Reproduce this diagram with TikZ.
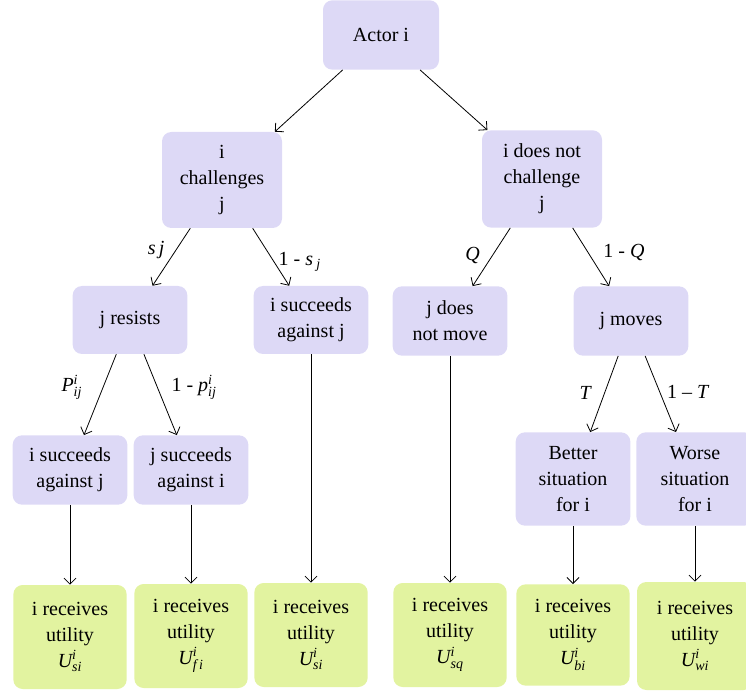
\documentclass[tikz,border=0pt]{standalone}
\usepackage{amsmath}
\usepackage{fontspec}
\setmainfont{Liberation Serif}
\usetikzlibrary{arrows.meta}
\definecolor{lav}{RGB}{221,217,246}
\definecolor{lime}{RGB}{226,243,160}
\newcommand{\vi}[1]{\textit{#1}}

\begin{document}
\begin{tikzpicture}[x=0.75pt, y=-0.75pt,
    choice/.style={rectangle, rounded corners=7pt, fill=lav, align=center,
                   minimum width=86pt, minimum height=51pt, inner sep=2pt,
                   font=\fontsize{15}{19.5}\selectfont},
    payoff/.style={rectangle, rounded corners=7pt, fill=lime, align=center,
                   minimum width=85pt, minimum height=78pt, inner sep=2pt,
                   font=\fontsize{15}{19.5}\selectfont},
    prob/.style={font=\fontsize{15}{19.5}\selectfont},
    arrow/.style={-{Straight Barb[length=1.6mm]}, semithick}
]
\clip (0,0) rectangle (746,691);

\node (actor) [choice, minimum width=87pt, minimum height=52pt] at (381,35) {Actor i};
\node (chal)  [choice, minimum width=90pt, minimum height=72pt] at (222,180) {i\\challenges\\j};
\node (nochal)[choice, minimum width=90pt, minimum height=73pt] at (542,179) {i does not\\challenge\\j};
\node (res)   [choice] at (130,320) {j resists};
\node (succ)  [choice] at (311,320) {i succeeds\\against j};
\node (stay)  [choice, minimum height=52pt] at (450,321) {j does\\not move};
\node (move)  [choice, minimum height=52pt] at (631,321) {j moves};
\node (win)   [choice, minimum height=52pt] at (70,470) {i succeeds\\against j};
\node (lose)  [choice, minimum height=52pt] at (191,470) {j succeeds\\against i};
\node (better)[choice, minimum height=70pt] at (573,479) {Better\\situation\\for i};
\node (worse) [choice, minimum width=88pt, minimum height=70pt] at (695,479) {Worse\\situation\\for i};

% outcomes
\node (u1) [payoff] at (70,637)  {i receives\\utility\\$\vi{U}^{\vi{i}}_{\vi{si}}$};
\node (u2) [payoff] at (191,636) {i receives\\utility\\$\vi{U}^{\vi{i}}_{\vi{f\,i}}$};
\node (u3) [payoff] at (311,635) {i receives\\utility\\$\vi{U}^{\vi{i}}_{\vi{si}}$};
\node (u4) [payoff] at (450,635) {i receives\\utility\\$\vi{U}^{\vi{i}}_{\vi{sq}}$};
\node (u5) [payoff, minimum height=76pt] at (573,635) {i receives\\utility\\$\vi{U}^{\vi{i}}_{\vi{bi}}$};
\node (u6) [payoff, minimum width=87pt, minimum height=81pt] at (695,636) {i receives\\utility\\$\vi{U}^{\vi{i}}_{\vi{wi}}$};

\draw [arrow] (actor) -- (chal);
\draw [arrow] (actor) -- (nochal);
\draw [arrow] (chal) -- node[prob, left, pos=0.38, xshift=-5pt]{\vi{s\,j}} (res);
\draw [arrow] (chal) -- node[prob, right, pos=0.58]{1 - \vi{s}\,$_{\vi{j}}$} (succ);
\draw [arrow] (nochal) -- node[prob, left, pos=0.47, xshift=-6pt]{\vi{Q}} (stay);
\draw [arrow] (nochal) -- node[prob, right, pos=0.42, xshift=8pt]{1 - \vi{Q}} (move);
\draw [arrow] (res) -- node[prob, left, pos=0.41, xshift=-12pt]{$\vi{P}^{\vi{i}}_{\vi{ij}}$} (win);
\draw [arrow] (res) -- node[prob, right, pos=0.41, xshift=7pt]{1 - $\vi{p}^{\vi{i}}_{\vi{ij}}$} (lose);
\draw [arrow] (move) -- node[prob, left, pos=0.48, xshift=-6pt]{\vi{T}} (better);
\draw [arrow] (move) -- node[prob, right, pos=0.47, xshift=2pt]{1 -- \vi{T}} (worse);

\draw [arrow] (win)    -- (u1);
\draw [arrow] (lose)   -- (u2);
\draw [arrow] (succ)   -- (u3);
\draw [arrow] (stay)   -- (u4);
\draw [arrow] (better) -- (u5);
\draw [arrow] (worse)  -- (u6);
\end{tikzpicture}
\end{document}
